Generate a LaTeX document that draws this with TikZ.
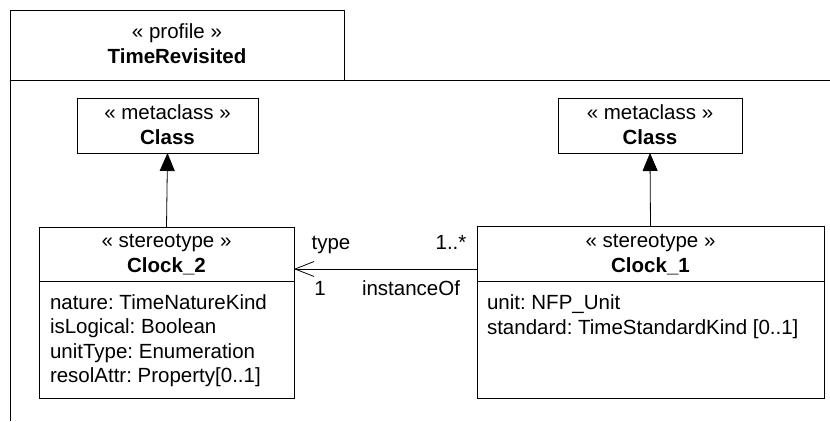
\documentclass[tikz,border=0pt]{standalone}
\usepackage{fontspec}
\setmainfont{Liberation Sans}
\usetikzlibrary{arrows.meta}
\frenchspacing
\begin{document}
\begin{tikzpicture}[x=1pt,y=-1pt,
  every node/.style={inner sep=0pt,outer sep=0pt,font=\fontsize{20.5}{24}\selectfont\frenchspacing},
  box/.style={draw,line width=1pt,rectangle,anchor=north west},
  lbl/.style={anchor=base},
  attr/.style={anchor=base west},
  gen/.style={line width=0.8pt,-{Triangle[width=15pt,length=18pt]}},
  assoc/.style={line width=0.8pt,-{Straight Barb[width=15pt,length=19pt,line width=0.8pt]}}]
\useasboundingbox (0,0) rectangle (830,421);
% profile frame
\node[box,minimum width=334pt,minimum height=70pt] (tab) at (10,10) {};
\coordinate (fr) at (830,80);
\coordinate (fb) at (10,421);
\draw[line width=1pt] (tab.south west) -- (fr);
\draw[line width=1pt] (tab.south west) -- (fb);
\node[lbl] (ptitle1) at (177,38) {« profile »};
\node[lbl] (ptitle2) at (177,63) {\bfseries TimeRevisited};
% metaclasses
\node[box,minimum width=181pt,minimum height=55pt] (mc1) at (77,98) {};
\node[lbl] at (167.5,119) {« metaclass »};
\node[lbl] at (167.5,144) {\bfseries Class};
\node[box,minimum width=184pt,minimum height=55pt] (mc2) at (558,98) {};
\node[lbl] at (650,119) {« metaclass »};
\node[lbl] at (650,144) {\bfseries Class};
% Clock_2
\node[box,minimum width=255pt,minimum height=171pt] (c2) at (39,227) {};
\coordinate (d) at (0,281);
\draw[line width=1pt] (c2.west |- d) -- (c2.east |- d);
\node[lbl] at (166.5,247) {« stereotype »};
\node[lbl] at (166.5,272) {\bfseries Clock\_2};
\node[attr] at (50,309) {nature: TimeNatureKind};
\node[attr] at (50,333) {isLogical: Boolean};
\node[attr] at (50,358) {unitType: Enumeration};
\node[attr] at (50,382) {resolAttr: Property[0..1]};
% Clock_1
\node[box,minimum width=347pt,minimum height=172pt] (c1) at (477,226) {};
\draw[line width=1pt] (c1.west |- d) -- (c1.east |- d);
\node[lbl] at (650.5,247) {« stereotype »};
\node[lbl] at (650.5,272) {\bfseries Clock\_1};
\node[attr] at (487,309) {unit: NFP\_Unit};
\node[attr] at (487,334) {standard: TimeStandardKind [0..1]};
% generalizations
\draw[gen] (c2.north) -- (mc1.south);
\draw[gen] (c1.north) -- (mc2.south);
% association
\coordinate (ay) at (0,269);
\draw[assoc] (c1.west |- ay) -- (c2.east |- ay);
\node[lbl] at (331,249) {type};
\node[lbl] at (451,249) {1..*};
\node[lbl] at (320,295) {1};
\node[lbl] at (411,295) {instanceOf};
\end{tikzpicture}
\end{document}
